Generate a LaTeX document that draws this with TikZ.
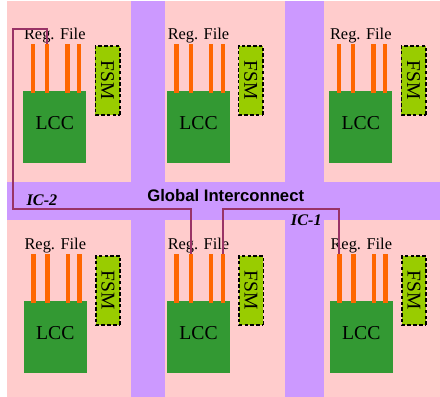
\documentclass[tikz,border=0pt]{standalone}
\usepackage{fontspec}
\setmainfont{Liberation Serif}
\setsansfont{Liberation Sans}
\definecolor{tilepink}{HTML}{FFCCCC}
\definecolor{icpurple}{HTML}{CC99FF}
\definecolor{lccgreen}{HTML}{339933}
\definecolor{fsmgreen}{HTML}{99CC00}
\definecolor{barorange}{HTML}{FF6600}
\definecolor{iccol}{HTML}{993366}
\begin{document}
\begin{tikzpicture}[x=1pt,y=-1pt,
  lccbox/.style={fill=lccgreen, minimum width=63pt, minimum height=72pt, inner sep=0pt,
    text height=13pt, text depth=8pt, font=\fontsize{19.7}{22}\selectfont},
  fsmbox/.style={fill=fsmgreen, draw=black, line width=1.6pt, dash pattern=on 3.5pt off 2.3pt,
    rotate=-90, minimum width=69pt, minimum height=24.5pt, inner sep=0pt,
    font=\fontsize{19.5}{22}\selectfont},
  regtext/.style={inner sep=0pt, font=\fontsize{16.4}{19}\selectfont},
  regbar/.style={fill=barorange, minimum width=4.6pt, minimum height=48.7pt, inner sep=0pt},
  gitext/.style={inner sep=0pt, font=\sffamily\bfseries\fontsize{16.7}{20}\selectfont},
  iclabel/.style={inner sep=0pt, font=\bfseries\itshape\fontsize{16.2}{19}\selectfont},
  icline/.style={draw=iccol, line width=2.2pt}]
\useasboundingbox (0,0) rectangle (440,397);
% background
\fill[tilepink] (6.5,1) rectangle (440,397);
\fill[icpurple] (131,1) rectangle (165,397);
\fill[icpurple] (285,1) rectangle (324,397);
\fill[icpurple] (6.5,182) rectangle (440,220);
% tiles
\foreach \id/\L/\F/\dy in {1/23.3/95.3/0, 2/167/238.5/0, 3/329.3/401.3/0,
                            4/23.8/95.7/210, 5/167/238.8/210, 6/329.8/401.7/210} {
  \node[lccbox] (lcc\id) at (\L+31.5, 126.7+\dy) {LCC};
  \foreach \j/\o in {1/7, 2/21.3, 3/41.5, 4/53.3} {
    \node[regbar, anchor=north west] (b\id\j) at (\L+\o, 44+\dy) {};
  }
  \node[regtext, anchor=base] (rf\id) at (\L+31.5, 39+\dy) {Reg. File};
  \node[fsmbox] (fsm\id) at (\F+12.25, 80.3+\dy) {FSM};
}
% global interconnect
\node[gitext, anchor=base] (gi) at (225.7,201.7) {Global Interconnect};
\node[iclabel, anchor=base] (ic2) at (42,205) {IC-2};
\node[iclabel, anchor=base] (ic1) at (306.3,225) {IC-1};
% interconnect lines
\coordinate (ic2tl) at (13.3,29);
\coordinate (ic2bl) at (13.3,209);
\coordinate (ic1mid) at (280,209);
\draw[icline] (b12.north) |- (ic2tl) -- (ic2bl) -| (b52.north);
\draw[icline] (b54.north) |- (ic1mid) -| (b61.north);
\end{tikzpicture}
\end{document}
